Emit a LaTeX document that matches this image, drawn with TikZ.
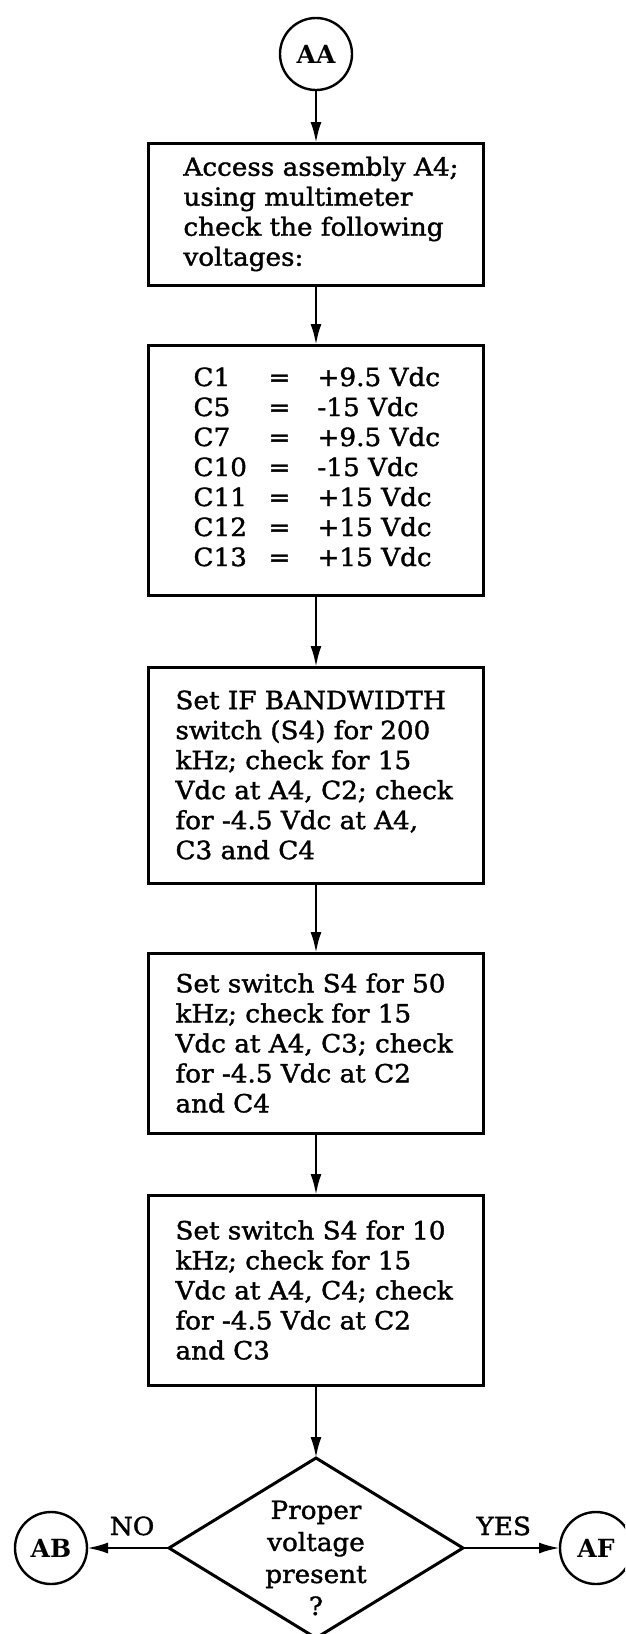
\documentclass[tikz,border=0pt]{standalone}
\usepackage{fontspec}
\setmainfont{DejaVu Serif}
\newfontfamily\stepfont{DejaVu Serif}[FakeBold=1.5,FakeStretch=1.05]
\usetikzlibrary{arrows.meta,positioning,shapes.geometric}

\begin{document}
\begin{tikzpicture}[x=1pt,y=-1pt,
  stepbox/.style={draw,line width=3pt,outer sep=0pt,minimum width=335pt,text width=281pt,inner xsep=27pt,align=left,font=\stepfont\fontsize{25}{30}\selectfont},
  conn/.style={draw,circle,line width=2.4pt,outer sep=0pt,minimum size=72pt,inner sep=0pt,font=\fontsize{25}{30}\selectfont\bfseries},
  dec/.style={draw,diamond,line width=3pt,outer sep=0pt,minimum width=294pt,minimum height=180pt,inner sep=0pt},
  lbl/.style={font=\stepfont\fontsize{25}{32}\selectfont,align=center},
  arr/.style={line width=2.6pt,-{Latex[length=21pt,width=11pt]}}]
\clip (0,0) rectangle (625,1634);
\node[conn] (aa) at (316,54) {AA};
\node[stepbox,minimum height=142pt,text width=301pt,inner xsep=17pt,below=53pt of aa] (access) {\hspace*{18pt}Access assembly A4;\\\hspace*{18pt}using multimeter\\\hspace*{18pt}check the following\\\hspace*{18pt}voltages:};
\node[stepbox,minimum height=250pt,below=60pt of access] (volts) {\hspace*{18pt}\begin{tabular}{@{}p{75pt}@{}p{49pt}@{}l@{}}
C1 & = & +9.5 Vdc\\
C5 & = & -15 Vdc\\
C7 & = & +9.5 Vdc\\
C10 & = & -15 Vdc\\
C11 & = & +15 Vdc\\
C12 & = & +15 Vdc\\
C13 & = & +15 Vdc
\end{tabular}};
\node[stepbox,minimum height=216pt,below=72pt of volts] (bw200) {Set IF BANDWIDTH\\switch (S4) for 200\\kHz; check for 15\\Vdc at A4, C2; check\\for -4.5 Vdc at A4,\\C3 and C4};
\node[stepbox,minimum height=180pt,below=70pt of bw200] (bw50) {Set switch S4 for 50\\kHz; check for 15\\Vdc at A4, C3; check\\for -4.5 Vdc at C2\\and C4};
\node[stepbox,minimum height=190pt,below=62pt of bw50] (bw10) {Set switch S4 for 10\\kHz; check for 15\\Vdc at A4, C4; check\\for -4.5 Vdc at C2\\and C3};
\node[dec,below=73pt of bw10] (proper) {};
\node[lbl] (propertxt) at ([yshift=-10pt]proper.center) {Proper\\voltage\\present\\?};
\node[conn,left=82pt of proper] (ab) {AB};
\node[conn,right=97pt of proper] (af) {AF};
\foreach \x/\y in {aa/access,access/volts,volts/bw200,bw200/bw50,bw50/bw10,bw10/proper} \draw[arr] (\x) -- (\y);
\draw[arr] (proper.west) -- node[lbl,pos=0.45,above=8pt] (no) {NO} (ab);
\draw[arr] (proper.east) -- node[lbl,pos=0.42,above=8pt] (yes) {YES} (af);
\end{tikzpicture}
\end{document}
